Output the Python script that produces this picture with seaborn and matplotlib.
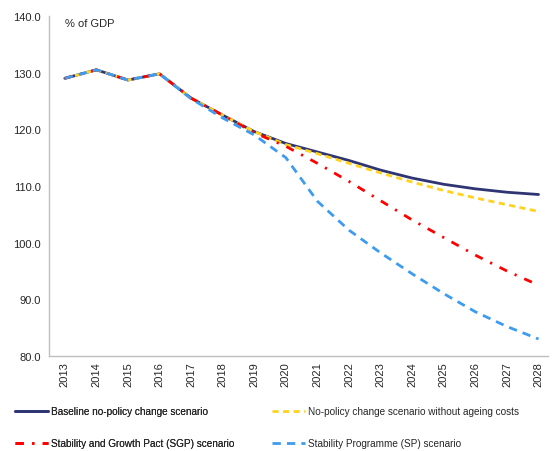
import numpy as np
import pandas as pd
import matplotlib
matplotlib.use("Agg")
import matplotlib.pyplot as plt
import seaborn as sns

years = list(range(2013, 2029))
baseline = [129.0, 130.5, 128.7, 129.8, 125.5, 122.5, 119.6, 117.5, 116.0, 114.5, 112.8, 111.4, 110.3, 109.5, 108.9, 108.5]
no_ageing = [129.0, 130.5, 128.7, 129.8, 125.5, 122.5, 119.6, 117.3, 115.7, 114.0, 112.3, 110.7, 109.2, 107.9, 106.7, 105.5]
sgp = [129.0, 130.5, 128.7, 129.8, 125.5, 122.5, 119.4, 117.0, 114.0, 110.8, 107.4, 104.0, 100.9, 97.8, 95.0, 92.5]
sp = [129.0, 130.5, 128.7, 129.8, 125.4, 122.0, 119.0, 115.0, 107.3, 102.2, 98.2, 94.5, 91.0, 87.8, 85.2, 83.0]

labels = ["Baseline no-policy change scenario",
          "No-policy change scenario without ageing costs",
          "Stability and Growth Pact (SGP) scenario",
          "Stability Programme (SP) scenario"]
colors = ["#2F3573", "#FFD21F", "#FF0000", "#3D9CF0"]

sns.set_style("white")
plt.rcParams['font.family'] = ['Liberation Sans', 'DejaVu Sans']

fig = plt.figure(figsize=(5.56, 4.52), dpi=100)
ax = fig.add_axes([49/556, 1 - 357/452, 499/556, 340/452])

series = [baseline, no_ageing, sgp, sp]
styles = [None, (0, (2.2, 1.6)), (0, (3.0, 3.0, 0.8, 3.0)), (0, (3.0, 2.2))]
lines = {}
for i in range(4):
    df = pd.DataFrame({"year": years, "value": series[i]})
    sns.lineplot(data=df, x="year", y="value", ax=ax, color=colors[i], lw=2.0, label=labels[i])
    ln = ax.get_lines()[-1]
    if styles[i] is not None:
        ln.set_linestyle(styles[i])
    lines[i] = ln

ax.set_xlim(2012.5, 2028.3)
ax.set_ylim(80, 140)
ax.set_yticks(np.arange(80, 141, 10))
ax.set_yticklabels([f"{v:.1f}" for v in np.arange(80, 141, 10)], fontsize=8)
ax.set_xticks(years)
ax.set_xticklabels([str(y) for y in years], rotation=90, fontsize=8)
ax.tick_params(axis="y", length=0, pad=6)
ax.tick_params(axis="x", length=0, pad=4)
ax.set_xlabel("")
ax.set_ylabel("")
for s in ["top", "right"]:
    ax.spines[s].set_visible(False)
for s in ["left", "bottom"]:
    ax.spines[s].set_color("#BFBFBF")
    ax.spines[s].set_linewidth(1.0)
ax.text(0.033, 0.995, "% of GDP", transform=ax.transAxes, fontsize=8, va="top", ha="left")

ax.get_legend().remove()
leg_kw = dict(loc="lower left", frameon=False, fontsize=7.2, handlelength=3.3,
              handletextpad=0.3, labelspacing=2.2, borderpad=0, borderaxespad=0)
leg1 = fig.legend([lines[0], lines[2]], [labels[0], labels[2]],
                  bbox_to_anchor=(15/556, 1 - 449/452), **leg_kw)
fig.add_artist(leg1)
fig.legend([lines[1], lines[3]], [labels[1], labels[3]],
           bbox_to_anchor=(272/556, 1 - 449/452), **leg_kw)

fig.savefig("out.png", dpi=100)
